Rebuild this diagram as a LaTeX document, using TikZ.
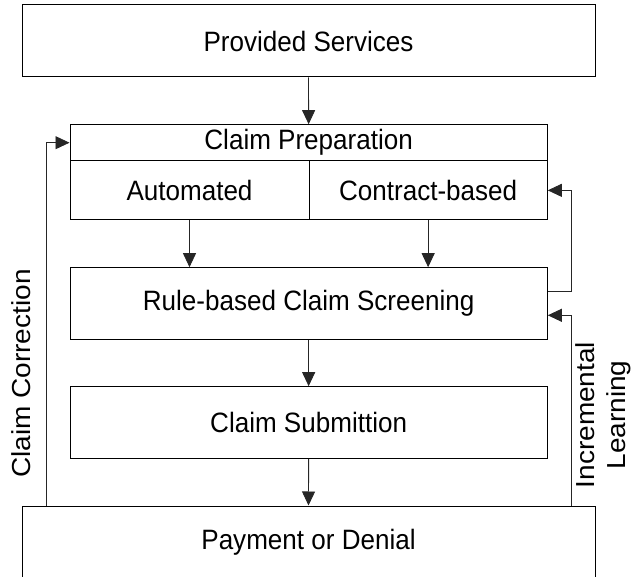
\documentclass[tikz,border=0pt]{standalone}
\usepackage{fontspec}
\setmainfont{Liberation Sans}
\usetikzlibrary{arrows.meta}
\newcommand{\sq}[1]{\scalebox{0.93}[1]{#1}}
\begin{document}
\begin{tikzpicture}[x=1pt,y=-1pt,
  box/.style={draw=black,line width=1pt,inner sep=0pt,anchor=center,
    font=\fontsize{28}{33.6}\selectfont},
  conn/.style={draw=black!85,line width=0.85pt,
    -{Triangle[length=14pt,width=13pt]}},
  vlabel/.style={inner sep=0pt,font=\fontsize{28}{33.6}\selectfont}]
\useasboundingbox (0,0) rectangle (632,577);
% boxes
\node[box,minimum width=573pt,minimum height=72pt] (prov) at (308.5,41) {\sq{Provided Services}};
\node[box,minimum width=477.3pt,minimum height=36pt] (prep) at (308.65,142.7) {\sq{Claim Preparation}};
\node[box,minimum width=239pt,minimum height=59.3pt] (auto) at (189.5,190.35) {\sq{Automated}};
\node[box,minimum width=238.3pt,minimum height=59.3pt] (contract) at (428.15,190.35) {\sq{Contract-based}};
\node[box,minimum width=477.3pt,minimum height=71.6pt] (rule) at (308.65,303.5) {\sq{Rule-based Claim Screening}};
\node[box,minimum width=477.3pt,minimum height=71.6pt] (submit) at (308.65,422.5) {\sq{Claim Submittion}};
\node[box,minimum width=573pt,minimum height=73pt] (pay) at (308.5,542.5) {\sq{Payment or Denial}};
% side labels
\node[vlabel] (corr) at (21,373.5) {\scalebox{0.93}[1]{\rotatebox{90}{Claim Correction}}};
\node[vlabel] (incr) at (604,415) {\scalebox{0.93}[1]{\rotatebox{90}{\begin{tabular}{@{}c@{}}Incremental\\[-0.5pt]Learning\end{tabular}}}};
% helper coordinates
\coordinate (cl) at (46,142);
\coordinate (rx) at (571,291.7);
\coordinate (iy) at (571,315.3);
% main flow
\draw[conn] (prov.south) -- (prep.north);
\draw[conn] (auto.south) -- (rule.north -| auto.south);
\draw[conn] (contract.south) -- (rule.north -| contract.south);
\draw[conn] (rule.south) -- (submit.north);
\draw[conn] (submit.south) -- (pay.north);
% feedback loops
\draw[conn] (pay.north -| cl) |- (prep.west);
\draw[conn] (rule.east |- rx) -- (rx) |- (contract.east);
\draw[conn] (pay.north -| iy) |- (rule.east |- iy);
\end{tikzpicture}
\end{document}
